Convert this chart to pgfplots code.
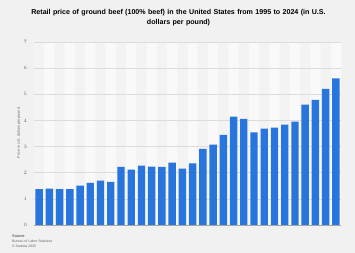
\documentclass[border=0pt]{standalone}
\usepackage{pgfplots}
\pgfplotsset{compat=1.18}
\usepackage{pgfplotstable}
\usepackage{fontspec}
\setmainfont{Liberation Sans}

\definecolor{pagebg}{HTML}{F1F1F1}
\definecolor{plotbg}{HTML}{F3F3F3}
\definecolor{bandbg}{HTML}{F9F9F9}
\definecolor{gridgray}{HTML}{DCDCDC}
\definecolor{barblue}{HTML}{2876DD}
\definecolor{ticktext}{HTML}{666666}

% ground beef, 100% beef, annual average retail price (USD per pound), 1995--2024
\pgfplotstableread{
idx year price
0  1995 1.37
1  1996 1.39
2  1997 1.37
3  1998 1.37
4  1999 1.51
5  2000 1.61
6  2001 1.70
7  2002 1.65
8  2003 2.22
9  2004 2.12
10 2005 2.27
11 2006 2.23
12 2007 2.22
13 2008 2.39
14 2009 2.16
15 2010 2.36
16 2011 2.91
17 2012 3.07
18 2013 3.45
19 2014 4.15
20 2015 4.06
21 2016 3.54
22 2017 3.69
23 2018 3.72
24 2019 3.84
25 2020 3.95
26 2021 4.60
27 2022 4.79
28 2023 5.21
29 2024 5.61
}\beefprices

% alternating light column bands behind the bars
\pgfplotstableread{
idx top
1 7
3 7
5 7
7 7
9 7
11 7
13 7
15 7
17 7
19 7
21 7
23 7
25 7
27 7
29 7
}\bands

\begin{document}
\begin{tikzpicture}
  \fill[pagebg] (0pt,0pt) rectangle (355pt,253pt);
  \useasboundingbox (0pt,0pt) rectangle (355pt,253pt);

  \node[font=\bfseries\fontsize{7.1}{7}\selectfont, align=center, text width=345pt]
    at (178.5pt,235pt) {Retail price of ground beef (100\% beef) in the United States from 1995 to 2024 (in U.S.\\[3.2pt] dollars per pound)};

  \begin{axis}[
    at={(34pt,28pt)}, anchor=south west,
    scale only axis, width=307pt, height=183pt,
    xmin=-0.5, xmax=29.5, ymin=0, ymax=7,
    axis background/.style={fill=plotbg},
    axis line style={draw=none},
    xtick=\empty,
    ytick={0,1,...,7},
    major tick length=0pt,
    yticklabel style={font=\fontsize{4}{4}\selectfont, color=ticktext, xshift=-3.5pt},
    ybar, bar shift=0pt,
    clip=false,
  ]
    \addplot[fill=bandbg, draw=none, bar width=1]
      table[x=idx, y=top] {\bands};
    \pgfplotsinvokeforeach{1,...,7}{
      \draw[gridgray, line width=0.5pt] (axis cs:-0.5,#1) -- (axis cs:29.5,#1);
    }
    \addplot[fill=barblue, draw=none, bar width=7.4pt]
      table[x=idx, y=price] {\beefprices};
    \draw[gray!70, line width=0.6pt] (axis cs:-0.5,0) -- (axis cs:29.5,0);
  \end{axis}

  \node[rotate=90, font=\fontsize{3.7}{4}\selectfont, color=ticktext] at (19pt,120pt)
    {Price in U.S. dollars per pound};

  \node[anchor=west, font=\fontsize{3.9}{4}\selectfont, color=black!80, inner sep=0pt] at (12pt,17pt) {Source};
  \node[anchor=west, font=\fontsize{3.5}{4}\selectfont, color=ticktext, inner sep=0pt] at (12pt,12pt) {Bureau of Labor Statistics};
  \node[anchor=west, font=\fontsize{3.5}{4}\selectfont, color=ticktext, inner sep=0pt] at (12pt,6.5pt) {\textcopyright\ Statista 2025};
\end{tikzpicture}
\end{document}
